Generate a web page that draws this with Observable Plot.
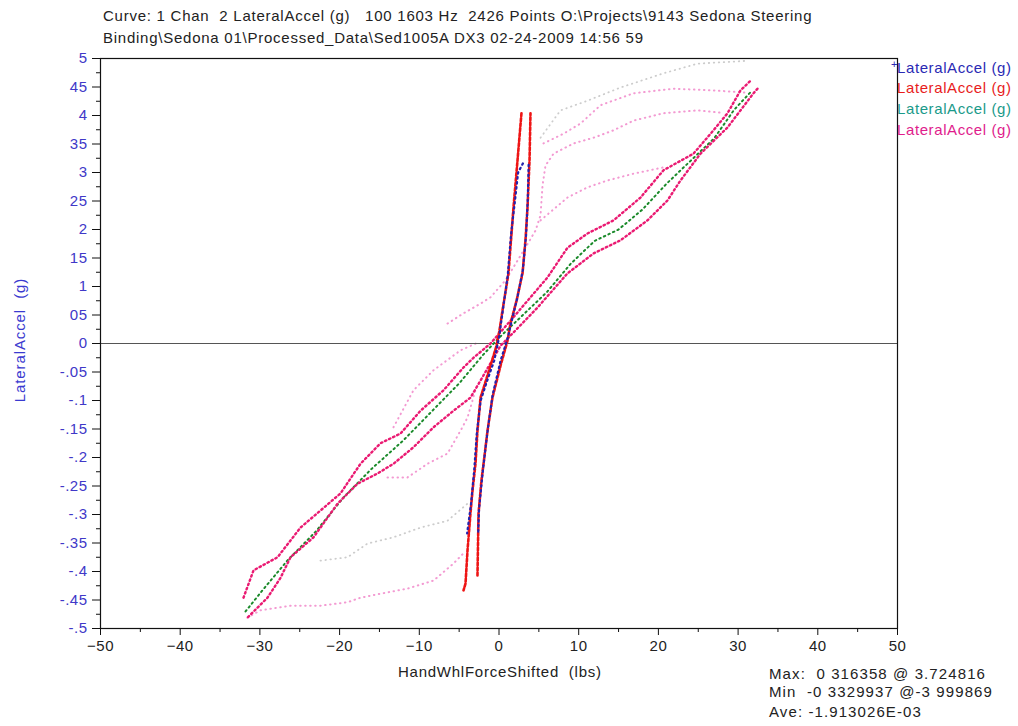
<!DOCTYPE html>
<html><head><meta charset="utf-8">
<script src="https://cdn.jsdelivr.net/npm/d3@7"></script>
<script src="https://cdn.jsdelivr.net/npm/@observablehq/plot@0.6"></script>
<style>
body{margin:0;background:#fff;font-family:"Liberation Sans",Arial,sans-serif;}
#wrap{position:relative;width:1018px;height:726px;overflow:hidden;}
.t{position:absolute;white-space:pre;font-size:15px;line-height:16px;color:#222;letter-spacing:0.75px;}
.lg{position:absolute;white-space:pre;font-size:15px;line-height:16px;left:897px;letter-spacing:0.6px;}
#ylab{position:absolute;left:19px;top:340px;transform:translate(-50%,-50%) rotate(-90deg);white-space:pre;font-size:15px;letter-spacing:0.9px;color:#3a3ad0;}
svg text{letter-spacing:0.5px;}
</style></head><body>
<div id="wrap">
<div class="t" style="left:103px;top:8px">Curve: 1 Chan  2 LateralAccel (g)   100 1603 Hz  2426 Points O:\Projects\9143 Sedona Steering</div>
<div class="t" style="left:103px;top:30px">Binding\Sedona 01\Processed_Data\Sed1005A DX3 02-24-2009 14:56 59</div>
<div id="chart" style="position:absolute;left:0;top:48px"></div>
<div id="ylab">LateralAccel  (g)</div>
<div class="t" style="left:398px;top:664px">HandWhlForceShifted  (lbs)</div>
<div class="t" style="left:769px;top:666px;letter-spacing:1.1px">Max:  0 316358 @ 3.724816</div>
<div class="t" style="left:769px;top:684px;letter-spacing:1.1px">Min  -0 3329937 @-3 999869</div>
<div class="t" style="left:769px;top:704px;letter-spacing:1.1px">Ave: -1.913026E-03</div>
<div class="lg" style="top:60px;color:#2a2ab4"><span style="position:absolute;left:-6px;top:-4px;font-size:11px">+</span>LateralAccel (g)</div>
<div class="lg" style="top:80px;color:#e81c1c">LateralAccel (g)</div>
<div class="lg" style="top:101px;color:#1a9a8a">LateralAccel (g)</div>
<div class="lg" style="top:122px;color:#e01c8c">LateralAccel (g)</div>
</div>
<script>
// ---- axis ticks ----
const xTicks = [-50,-40,-30,-20,-10,0,10,20,30,40,50];
const xMinorTicks = [-45,-35,-25,-15,-5,5,15,25,35,45];
const yTicks = [0.5,0.45,0.4,0.35,0.3,0.25,0.2,0.15,0.1,0.05,0,-0.05,-0.1,-0.15,-0.2,-0.25,-0.3,-0.35,-0.4,-0.45,-0.5];
const yTickLabels = ["5","45","4","35","3","25","2","15","1","05","0","-.05","-.1","-.15","-.2","-.25","-.3","-.35","-.4","-.45","-.5"];
const yMinorTicks = [0.475,0.425,0.375,0.325,0.275,0.225,0.175,0.125,0.075,0.025,-0.025,-0.075,-0.125,-0.175,-0.225,-0.275,-0.325,-0.375,-0.425,-0.475];

// ---- Curve 1 (blue): steep loop ----
const blueUp = [[-2.6,-0.33],[-2.5,-0.29],[-2.0,-0.22],[-1.4,-0.15],[-0.8,-0.09],[0.2,-0.03],[1.1,0.01],[1.6,0.04],[2.3,0.08],[3.0,0.13],[3.4,0.19],[3.6,0.25],[3.72,0.316]];
const blueDown = [[3.0,0.316],[2.4,0.30],[2.0,0.25],[1.5,0.19],[1.1,0.12],[0.5,0.06],[0.0,0.01],[-0.6,-0.03],[-1.6,-0.07],[-2.3,-0.10],[-2.8,-0.16],[-3.1,-0.22],[-3.5,-0.28],[-4.0,-0.333]];

// ---- Curve 2 (red): steep loop ----
const redLeft = [[2.82,0.404],[2.32,0.321],[1.82,0.239],[1.19,0.123],[0.44,0.058],[0.06,0.023],[-0.31,-0.004],[-1.44,-0.056],[-2.32,-0.095],[-2.70,-0.153],[-2.95,-0.211],[-3.32,-0.258],[-3.58,-0.298],[-3.95,-0.363],[-4.20,-0.421],[-4.45,-0.433]];
const redRight = [[-2.70,-0.407],[-2.57,-0.298],[-2.20,-0.240],[-1.94,-0.211],[-1.44,-0.153],[-0.82,-0.095],[0.19,-0.039],[1.07,0.005],[1.44,0.035],[2.20,0.075],[2.95,0.123],[3.32,0.181],[3.58,0.239],[3.83,0.321],[3.95,0.404]];

// ---- Curve 3 (green): broad band ----
const greenBand = [[-31.8,-0.47],[-29.5,-0.43],[-26.5,-0.38],[-23,-0.33],[-19.5,-0.27],[-16,-0.22],[-12,-0.17],[-8.5,-0.12],[-5,-0.07],[-2,-0.02],[0,0.01],[3,0.05],[6,0.09],[9,0.14],[12,0.18],[15,0.2],[18,0.235],[21,0.28],[24,0.32],[27,0.36],[29.5,0.41],[31.5,0.44]];

// ---- Curve 4 (magenta): broad band, two strands ----
const magentaA = [[-32.06,-0.446],[-30.80,-0.398],[-27.79,-0.375],[-24.91,-0.323],[-22.40,-0.293],[-19.89,-0.263],[-17.38,-0.211],[-14.87,-0.175],[-12.36,-0.158],[-9.85,-0.118],[-6.96,-0.082],[-4.45,-0.042],[-3.20,-0.025],[-1.07,0.0],[1.44,0.040],[3.58,0.075],[6.09,0.116],[8.59,0.168],[11.10,0.193],[14.37,0.216],[17.75,0.256],[20.64,0.304],[24.40,0.333],[26.91,0.374],[28.67,0.404],[30.30,0.444],[31.56,0.461]];
const magentaB = [[32.43,0.447],[31.93,0.439],[28.67,0.379],[25.28,0.333],[22.77,0.286],[21.14,0.251],[18.63,0.216],[15.24,0.181],[11.86,0.158],[8.59,0.123],[4.83,0.063],[2.07,0.023],[0.19,-0.004],[-2.32,-0.065],[-3.58,-0.095],[-5.71,-0.118],[-8.22,-0.147],[-10.73,-0.182],[-13.24,-0.211],[-15.24,-0.228],[-17.75,-0.246],[-20.26,-0.281],[-23.27,-0.340],[-26.16,-0.375],[-27.41,-0.411],[-29.05,-0.446],[-31.56,-0.481]];

// ---- faint traces (light dotted) ----
const faint1 = [[-6.46,0.035],[-4.45,0.053],[-2.32,0.070],[-1.07,0.081],[0.82,0.111],[2.70,0.154],[4.58,0.198],[5.21,0.225],[5.46,0.277],[5.83,0.312],[6.84,0.333],[9.35,0.351],[11.86,0.361],[14.37,0.374],[16.88,0.391],[20.64,0.404],[24.91,0.409],[27.79,0.405]];
const faint2 = [[5.58,0.351],[8.09,0.368],[10.23,0.386],[12.74,0.418],[16.88,0.439],[21.89,0.447],[26.91,0.444],[31.18,0.440]];
const faint3 = [[5.21,0.361],[7.72,0.409],[11.10,0.426],[15.24,0.449],[20.64,0.474],[24.91,0.491],[31.18,0.496]];
const faint4 = [[5.21,0.216],[8.59,0.256],[11.10,0.274],[13.61,0.286],[16.88,0.298],[20.64,0.309]];
const faint5 = [[-31.56,-0.481],[-29.92,-0.468],[-26.16,-0.460],[-22.40,-0.460],[-19.01,-0.454],[-17.38,-0.446],[-14.87,-0.439],[-11.48,-0.430],[-8.22,-0.416],[-5.71,-0.386],[-4.45,-0.368]];
const faint6 = [[-22.40,-0.381],[-19.01,-0.375],[-16.50,-0.351],[-13.24,-0.340],[-9.85,-0.323],[-6.46,-0.311],[-3.95,-0.281]];
const faint7 = [[-13.99,-0.235],[-11.48,-0.235],[-8.97,-0.211],[-6.46,-0.193],[-4.83,-0.153],[-3.95,-0.130],[-2.95,-0.082]];
const faint8 = [[-13.24,-0.147],[-10.73,-0.082],[-8.22,-0.047],[-4.83,-0.012],[-2.9,0.0]];

const blue = "#2323b0", red = "#ee1515", green = "#1a8a2a", magenta = "#ea1a72";
const pink = "#f39ad2", grey = "#cccccc";

function ln(data, stroke, w, dash, op=1) {
  return Plot.line(data, {x: d => d[0], y: d => d[1], stroke, strokeWidth: w, strokeDasharray: dash, strokeOpacity: op, strokeLinecap: "round"});
}

const chart = Plot.plot({
  width: 1018, height: 678,
  marginLeft: 100, marginRight: 121, marginTop: 10, marginBottom: 98,
  style: {fontFamily: '"Liberation Sans", Arial, sans-serif', fontSize: "15px", background: "#fff"},
  x: {domain: [-50, 50]},
  y: {domain: [-0.5, 0.5]},
  marks: [
    ln(faint3, grey, 1.8, "0.5,4.5"),
    ln(faint2, pink, 2, "0.5,4.5"),
    ln(faint1, pink, 2, "0.5,4.5"),
    ln(faint4, pink, 2, "0.5,4.5"),
    ln(faint5, pink, 2, "0.5,4.5"),
    ln(faint6, grey, 1.8, "0.5,4.5"),
    ln(faint7, pink, 2, "0.5,4.5"),
    ln(faint8, pink, 2, "0.5,4.5"),
    Plot.ruleY([0], {stroke: "#555", strokeWidth: 1}),
    ln(greenBand, green, 2, "1.5,3.5"),
    ln(magentaB, magenta, 2.4, "1.5,3"),
    ln(magentaA, magenta, 2.4, "1.5,3"),
    ln(redLeft, red, 2.6, "3,2"),
    ln(redRight, red, 2.6, "3,2"),
    ln(blueUp, blue, 2.2, "1.5,3.5"),
    ln(blueDown, blue, 2.2, "1.5,3.5"),
    Plot.frame({stroke: "#111", strokeWidth: 1.2}),
    Plot.axisX({ticks: xTicks, tickSize: 7, tickPadding: 5, label: null, stroke: "#111", color: "#222"}),
    Plot.axisX({ticks: xMinorTicks, tickSize: 4, tickFormat: () => "", label: null, stroke: "#111"}),
    Plot.axisY({ticks: yTicks, tickSize: 8, tickFormat: () => "", label: null, stroke: "#111"}),
    Plot.axisY({ticks: yMinorTicks, tickSize: 4, tickFormat: () => "", label: null, stroke: "#111"}),
    Plot.axisY({ticks: yTicks, tickSize: 0, tickPadding: 13, label: null, fill: "#4038c8",
      tickFormat: v => yTickLabels[yTicks.findIndex(t => Math.abs(t - v) < 1e-9)]})
  ]
});
document.getElementById("chart").appendChild(chart);
</script>
</body></html>
